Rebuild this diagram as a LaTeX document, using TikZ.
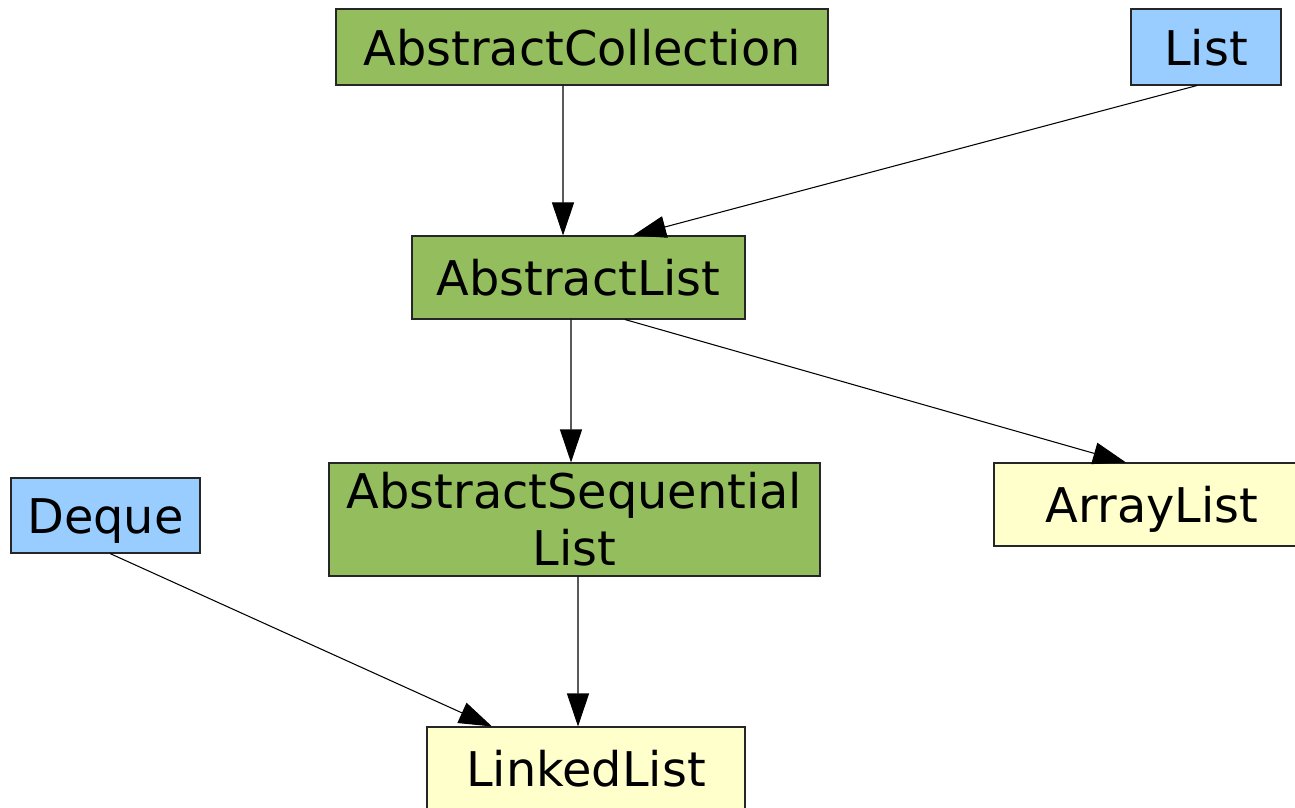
\documentclass[tikz,border=0pt]{standalone}
\usepackage{fontspec}
\setmainfont{DejaVu Sans}
\usepackage{xcolor}
\usetikzlibrary{arrows.meta, positioning}

\definecolor{absgreen}{HTML}{94BE5D}
\definecolor{ifaceblue}{HTML}{99CCFF}
\definecolor{implyellow}{HTML}{FFFFCC}

\begin{document}
\begin{tikzpicture}[
  box/.style={rectangle, draw=black!85, line width=0.6pt, inner sep=0pt, align=center,
    font=\fontsize{27.2}{32.6}\selectfont, minimum height=1.66cm},
  oneline/.style={text height=20.7pt, text depth=0pt},
  abstractcls/.style={box, fill=absgreen},
  iface/.style={box, oneline, fill=ifaceblue, minimum height=1.52cm},
  concrete/.style={box, oneline, fill=implyellow},
  inherit/.style={-{Triangle[length=0.66cm, width=0.44cm]}, line width=0.6pt}
]
\useasboundingbox (0,0) rectangle (25.9,-16.14);

% abstract classes
\node[abstractcls, oneline, minimum width=9.84cm, minimum height=1.52cm] (acoll) at (11.64,-0.94) {AbstractCollection};
\node[abstractcls, oneline, minimum width=6.66cm] (alist) at (11.57,-5.55) {AbstractList};
\node[abstractcls, minimum width=9.82cm, minimum height=2.26cm] (aseq) at (11.49,-10.39) {AbstractSequential\\List};

% interfaces
\node[iface, minimum width=3.0cm] (list) at (24.12,-0.94) {List};
\node[iface, minimum width=3.78cm, minimum height=1.5cm] (deque) at (2.11,-10.31) {Deque};

% concrete classes
\node[concrete, minimum width=6.32cm] (arrl) at (23.04,-10.09) {ArrayList};
\node[concrete, minimum width=6.36cm] (llist) at (11.72,-15.37) {LinkedList};

% inheritance arrows
\draw[inherit] ([xshift=-0.38cm]acoll.south) -- ([xshift=-0.31cm]alist.north);
\draw[inherit] ([xshift=-0.18cm]list.south) -- ([xshift=1.09cm]alist.north);
\draw[inherit] ([xshift=-0.15cm]alist.south) -- ([xshift=-0.07cm]aseq.north);
\draw[inherit] ([xshift=0.93cm]alist.south) -- ([xshift=-0.52cm]arrl.north);
\draw[inherit] ([xshift=0.07cm]aseq.south) -- ([xshift=-0.16cm]llist.north);
\draw[inherit] ([xshift=0.09cm]deque.south) -- ([xshift=-1.88cm]llist.north);
\end{tikzpicture}
\end{document}
